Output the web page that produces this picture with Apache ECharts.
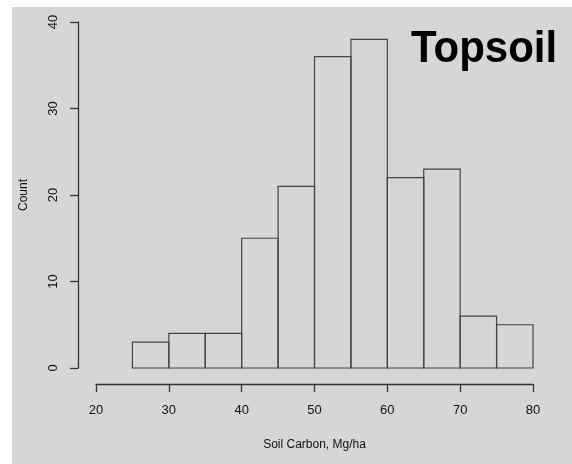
<!DOCTYPE html>
<html>
<head>
<meta charset="utf-8">
<script src="https://cdn.jsdelivr.net/npm/echarts@6/dist/echarts.min.js"></script>
<style>
  html, body { margin: 0; padding: 0; background: #ffffff; }
  #chart { position: absolute; left: 12px; top: 7px; width: 560px; height: 457px; background: #d6d6d6; }
</style>
</head>
<body>
<div id="chart"></div>
<script>
// Histogram of topsoil carbon stocks (5 Mg/ha bins)
const binStarts = [25, 30, 35, 40, 45, 50, 55, 60, 65, 70, 75];
const binWidth = 5;
const counts = [3, 4, 4, 15, 21, 36, 38, 22, 23, 6, 5];
const xTicks = [20, 30, 40, 50, 60, 70, 80];
const yTicks = [0, 10, 20, 30, 40];

const FONT = '"Liberation Sans", Arial, Helvetica, sans-serif';
const AXIS_COLOR = '#333333';

const bins = binStarts.map((s, i) => [s, s + binWidth, counts[i]]);

const chart = echarts.init(document.getElementById('chart'), null, { renderer: 'canvas' });

chart.setOption({
  animation: false,
  backgroundColor: 'transparent',
  grid: { left: 84, right: 39, top: 15, bottom: 96, containLabel: false, outerBoundsMode: 'none' },
  xAxis: {
    type: 'value',
    min: xTicks[0],
    max: xTicks[xTicks.length - 1],
    interval: 10,
    offset: 16,
    splitLine: { show: false },
    axisLine: { show: true, onZero: false, lineStyle: { color: AXIS_COLOR, width: 1.3 } },
    axisTick: { show: true, length: 8, lineStyle: { color: AXIS_COLOR, width: 1.3 } },
    axisLabel: { margin: 20, color: '#111', fontSize: 13, fontFamily: FONT },
    name: 'Soil Carbon, Mg/ha',
    nameLocation: 'middle',
    nameGap: 55,
    nameTextStyle: { color: '#111', fontSize: 12, fontFamily: FONT }
  },
  yAxis: {
    type: 'value',
    min: yTicks[0],
    max: yTicks[yTicks.length - 1],
    interval: 10,
    offset: 18,
    splitLine: { show: false },
    axisLine: { show: true, onZero: false, lineStyle: { color: AXIS_COLOR, width: 1.3 } },
    axisTick: { show: true, length: 8, lineStyle: { color: AXIS_COLOR, width: 1.3 } },
    axisLabel: { margin: 18, rotate: 90, color: '#111', fontSize: 13, fontFamily: FONT },
    name: 'Count',
    nameLocation: 'middle',
    nameGap: 48,
    nameRotate: 90,
    nameTextStyle: { color: '#111', fontSize: 12, fontFamily: FONT }
  },
  graphic: [{
    type: 'text',
    x: 399,
    y: 20,
    scaleY: 1.06,
    style: {
      text: 'Topsoil',
      font: 'bold 42px ' + FONT,
      fill: '#000',
      textVerticalAlign: 'top'
    }
  }],
  series: [{
    type: 'custom',
    data: bins,
    encode: { x: [0, 1], y: 2 },
    renderItem: function (params, api) {
      const p0 = api.coord([api.value(0), api.value(2)]);
      const p1 = api.coord([api.value(1), 0]);
      return {
        type: 'rect',
        shape: { x: p0[0], y: p0[1], width: p1[0] - p0[0], height: p1[1] - p0[1] },
        style: { fill: 'none', stroke: '#444444', lineWidth: 1.2 }
      };
    }
  }]
});
</script>
</body>
</html>
